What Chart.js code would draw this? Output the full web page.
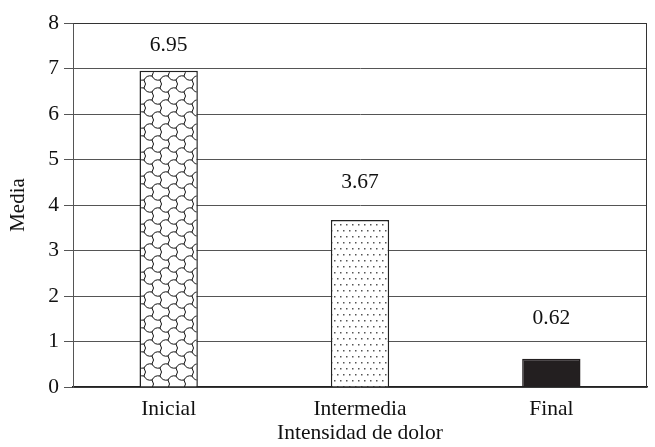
<!DOCTYPE html>
<html>
<head>
<meta charset="utf-8">
<script src="https://cdn.jsdelivr.net/npm/chart.js@4/dist/chart.umd.min.js"></script>
<style>
  html, body { margin:0; padding:0; background:#fff; }
  #wrap { width:655px; height:447px; position:relative; }
</style>
</head>
<body>
<div id="wrap"><canvas id="c"></canvas></div>
<script>
const categories = ['Inicial', 'Intermedia', 'Final'];
const means = [6.95, 3.67, 0.62];
const yTicks = [0, 1, 2, 3, 4, 5, 6, 7, 8];

const FONT = "'Liberation Serif', 'Times New Roman', serif";
const INK = '#111';

// curvy honeycomb tile, close to the "Y" tessellation of the first bar
function tessPattern(ctx) {
  const cv = document.createElement('canvas');
  cv.width = 16; cv.height = 24;
  const g = cv.getContext('2d');
  g.fillStyle = '#fff';
  g.fillRect(0, 0, 16, 24);
  g.strokeStyle = '#111';
  g.lineWidth = 1;
  const s = 8;
  const edge = (ax, ay, bx, by, k) => {
    const mx = (ax + bx) / 2, my = (ay + by) / 2;
    const dx = bx - ax, dy = by - ay, len = Math.hypot(dx, dy);
    g.beginPath();
    g.moveTo(ax, ay);
    g.quadraticCurveTo(mx - dy / len * k, my + dx / len * k, bx, by);
    g.stroke();
  };
  for (let row = -1; row <= 2; row++) {
    for (let col = -1; col <= 2; col++) {
      const cx = col * 16 + (row % 2 ? 8 : 0);
      const cy = row * 12;
      edge(cx, cy - s, cx + 8, cy - s / 2, 3.5);
      edge(cx + 8, cy - s / 2, cx + 8, cy + s / 2, -3);
      edge(cx + 8, cy + s / 2, cx, cy + s, 3.5);
    }
  }
  return ctx.createPattern(cv, 'repeat');
}

function dotPattern(ctx) {
  const cv = document.createElement('canvas');
  cv.width = 6; cv.height = 12;
  const g = cv.getContext('2d');
  g.fillStyle = '#fff';
  g.fillRect(0, 0, 6, 12);
  g.fillStyle = '#555';
  g.fillRect(1, 2, 1.5, 1.5);
  g.fillRect(4, 8, 1.5, 1.5);
  return ctx.createPattern(cv, 'repeat');
}

const ctx = document.getElementById('c').getContext('2d');

const valueLabels = {
  id: 'valueLabels',
  afterDatasetsDraw(chart) {
    const c = chart.ctx, ys = chart.scales.y;
    c.save();
    c.font = '21.5px ' + FONT;
    c.fillStyle = INK;
    c.textAlign = 'center';
    c.textBaseline = 'middle';
    chart.getDatasetMeta(0).data.forEach((bar, i) => {
      const v = means[i];
      c.fillText(v.toFixed(2), bar.x, ys.getPixelForValue(Math.ceil(v) + 0.5));
    });
    c.restore();
  }
};

const frame = {
  id: 'frame',
  afterDraw(chart) {
    const a = chart.chartArea, c = chart.ctx;
    c.save();
    c.strokeStyle = '#333';
    c.lineWidth = 1;
    c.beginPath();
    c.moveTo(Math.round(a.left) + 0.5, Math.round(a.top) + 0.5);
    c.lineTo(Math.round(a.right) - 0.5, Math.round(a.top) + 0.5);
    c.lineTo(Math.round(a.right) - 0.5, Math.round(a.bottom) + 0.5);
    c.stroke();
    c.restore();
  }
};

new Chart(ctx, {
  type: 'bar',
  data: {
    labels: categories,
    datasets: [{
      data: means,
      backgroundColor: [tessPattern(ctx), dotPattern(ctx), '#231f20'],
      borderColor: ['#222', '#222', '#231f20'],
      borderWidth: 1.5,
      categoryPercentage: 1,
      barPercentage: 0.305
    }]
  },
  options: {
    responsive: true, maintainAspectRatio: false, animation: false,
    devicePixelRatio: 1,
    layout: { padding: { top: 23, right: 8, left: 0, bottom: 0 } },
    plugins: { legend: { display: false }, tooltip: { enabled: false } },
    scales: {
      x: {
        grid: { display: false, drawTicks: false },
        border: { display: true, color: '#222', width: 1.5 },
        ticks: { color: INK, font: { family: FONT, size: 21.5 }, padding: 9 },
        title: { display: true, text: 'Intensidad de dolor', color: INK, font: { family: FONT, size: 21.5 }, padding: { top: 0, bottom: 1 } },
        afterFit(s) { s.height = 60; }
      },
      y: {
        min: 0, max: 8,
        afterBuildTicks(s) { s.ticks = yTicks.map(v => ({ value: v })); },
        grid: { color: '#555', tickColor: '#555', tickLength: 9, drawTicks: true },
        border: { color: '#555' },
        ticks: { color: INK, font: { family: FONT, size: 21.5 }, padding: 5 },
        title: { display: true, text: 'Media', color: INK, font: { family: FONT, size: 21 }, padding: { top: 6, bottom: 0 } },
        afterFit(s) { s.width = 73; }
      }
    }
  },
  plugins: [valueLabels, frame]
});
</script>
</body>
</html>
